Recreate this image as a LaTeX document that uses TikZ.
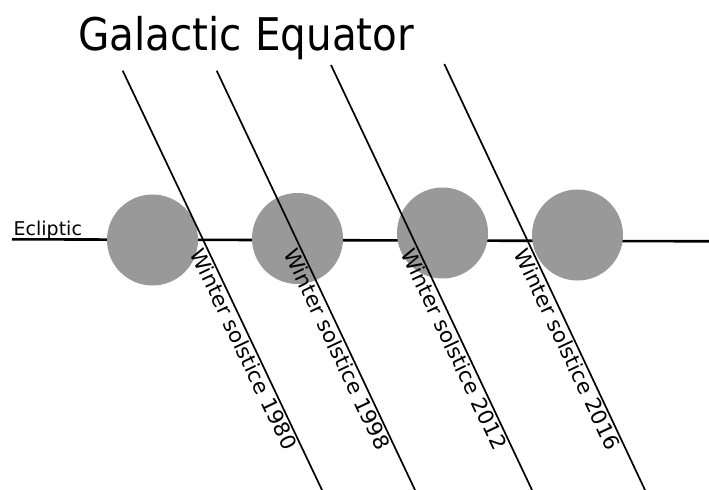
\documentclass[tikz,border=0pt]{standalone}
\usepackage{fontspec}
\setmainfont{DejaVu Sans}
\newfontfamily\titlefont[FakeStretch=0.9]{DejaVu Sans}
\newfontfamily\labelfont[FakeStretch=1.02]{DejaVu Sans}
\definecolor{planetgray}{RGB}{153,153,153}
\tikzset{
  eclline/.style={line width=2.6bp, black},
  solline/.style={line width=1.7bp, black},
  planet/.style={circle, fill=planetgray, draw=none, minimum size=91bp, inner sep=0pt},
  sollabel/.style={font=\labelfont\fontsize{21bp}{25bp}\selectfont, inner sep=1bp, sloped, anchor=north west},
  titletext/.style={font=\titlefont\fontsize{45bp}{54bp}\selectfont, inner sep=0pt, anchor=base west},
  ecltext/.style={font=\fontsize{19bp}{23bp}\selectfont, inner sep=0pt, anchor=base west}
}
\begin{document}
\begin{tikzpicture}[x=1bp,y=-1bp]
\useasboundingbox (0,0) rectangle (709,490);
% title
\node[titletext] (title) at (78,50.5) {Galactic Equator};
% ecliptic
\coordinate (eL) at (12,239.3);
\coordinate (eR) at (709,241.3);
\draw[eclline] (eL) -- (eR);
\node[ecltext] (ecl) at (13.5,236) {Ecliptic};
% planets
\node[planet] (p1) at (152.5,240) {};
\node[planet] (p2) at (297.5,238.5) {};
\node[planet] (p3) at (442.5,233) {};
\node[planet] (p4) at (577.5,235) {};
% solstice lines
\coordinate (t1) at (122.7,70.7); \coordinate (b1) at (322,490);
\coordinate (t2) at (216.7,70.7); \coordinate (b2) at (415,490);
\coordinate (t3) at (331,65);     \coordinate (b3) at (532,490);
\coordinate (t4) at (444.3,64);   \coordinate (b4) at (645,490);
\draw[solline] (t1) -- (b1) node[sollabel, pos=0.413] (w1) {Winter solstice 1980};
\draw[solline] (t2) -- (b2) node[sollabel, pos=0.413] (w2) {Winter solstice 1998};
\draw[solline] (t3) -- (b3) node[sollabel, pos=0.421] (w3) {Winter solstice 2012};
\draw[solline] (t4) -- (b4) node[sollabel, pos=0.4225] (w4) {Winter solstice 2016};
\end{tikzpicture}
\end{document}
